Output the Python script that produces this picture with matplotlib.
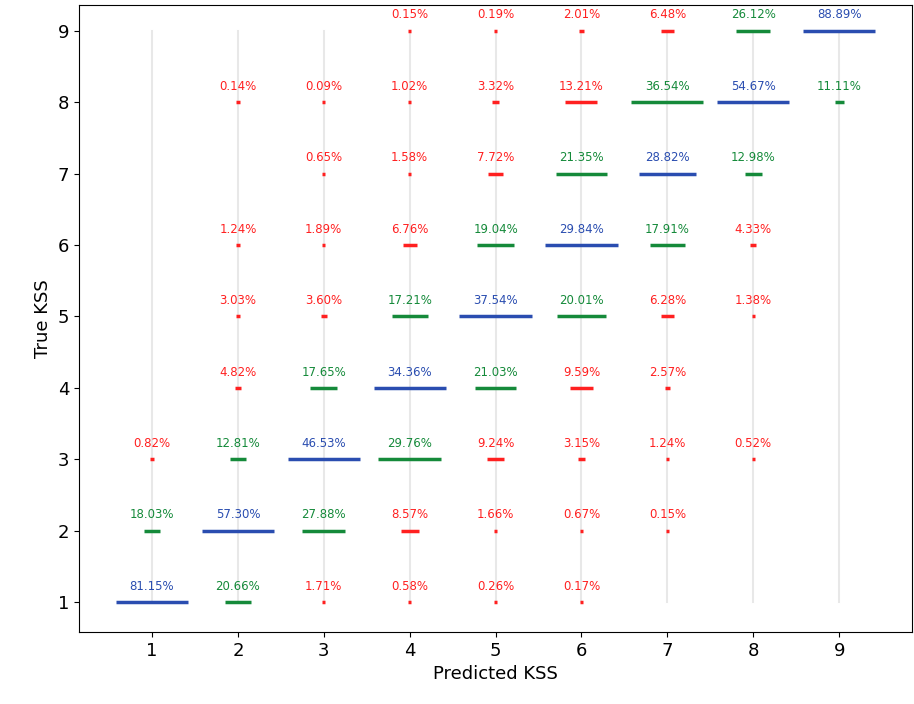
import matplotlib
matplotlib.use('Agg')
import matplotlib.pyplot as plt

# percentages of true KSS (1..9) for each predicted KSS column; None = no entry
pred_kss = [1, 2, 3, 4, 5, 6, 7, 8, 9]
col1 = [81.15, 18.03, 0.82, None, None, None, None, None, None]
col2 = [20.66, 57.30, 12.81, 4.82, 3.03, 1.24, None, 0.14, None]
col3 = [1.71, 27.88, 46.53, 17.65, 3.60, 1.89, 0.65, 0.09, None]
col4 = [0.58, 8.57, 29.76, 34.36, 17.21, 6.76, 1.58, 1.02, 0.15]
col5 = [0.26, 1.66, 9.24, 21.03, 37.54, 19.04, 7.72, 3.32, 0.19]
col6 = [0.17, 0.67, 3.15, 9.59, 20.01, 29.84, 21.35, 13.21, 2.01]
col7 = [None, 0.15, 1.24, 2.57, 6.28, 17.91, 28.82, 36.54, 6.48]
col8 = [None, None, 0.52, None, 1.38, 4.33, 12.98, 54.67, 26.12]
col9 = [None, None, None, None, None, None, None, 11.11, 88.89]
columns = [col1, col2, col3, col4, col5, col6, col7, col8, col9]
true_kss = [1, 2, 3, 4, 5, 6, 7, 8, 9]

fig = plt.figure(figsize=(9.14, 7.04), dpi=100)
ax = fig.add_axes([0.0864, 0.102, 0.9116, 0.891])

for x, col in zip(pred_kss, columns):
    ax.plot([x, x], [1, 9], color='#e8e8e8', lw=1.5, zorder=0)
    cmax = max(v for v in col if v is not None)
    for y, v in zip(true_kss, col):
        if v is None:
            continue
        d = abs(x - y)
        c = '#2a4db0' if d == 0 else ('#158a3a' if d == 1 else '#ff2020')
        w = max(v / cmax * 0.42, 0.02)
        ax.plot([x - w, x + w], [y, y], color=c, lw=2.5, solid_capstyle='butt')
        ax.text(x, y + 0.13, '%.2f%%' % v, color=c, fontsize=8.5, ha='center', va='bottom')

ax.set_xlim(0.15, 9.85)
ax.set_ylim(0.58, 9.36)
ax.set_xticks(pred_kss)
ax.set_yticks(true_kss)
ax.tick_params(labelsize=13)
ax.set_xlabel('Predicted KSS', fontsize=13)
ax.set_ylabel('True KSS', fontsize=13)
fig.savefig('out.png')
